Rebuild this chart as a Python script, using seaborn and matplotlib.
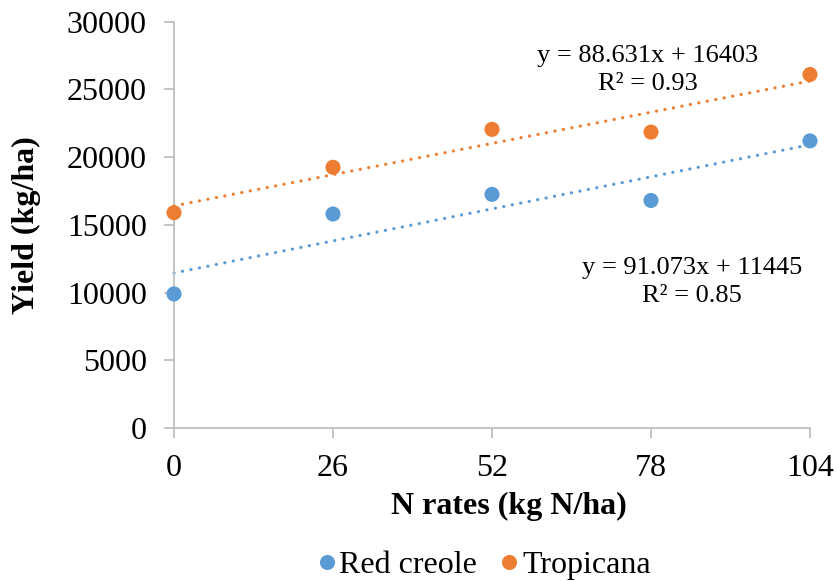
import numpy as np
import pandas as pd
import matplotlib
matplotlib.use("Agg")
import matplotlib.pyplot as plt
import seaborn as sns

# Data
n_rates = [0, 26, 52, 78, 104]
red_creole = [9900, 15800, 17250, 16800, 21200]
tropicana = [15900, 19250, 22050, 21850, 26100]
series_names = ["Red creole", "Tropicana"]
slopes = [91.073, 88.631]
intercepts = [11445, 16403]
r2_values = [0.85, 0.93]
y_ticks = [0, 5000, 10000, 15000, 20000, 25000, 30000]

colors = {"Red creole": "#5B9BD5", "Tropicana": "#ED7D31"}

df = pd.DataFrame({
    "N": n_rates * 2,
    "Yield": red_creole + tropicana,
    "Variety": [series_names[0]] * len(n_rates) + [series_names[1]] * len(n_rates),
})

sns.set_theme(style="white")
plt.rcParams["font.family"] = ["Liberation Serif", "DejaVu Serif"]
plt.rcParams["text.color"] = "black"
plt.rcParams["axes.labelcolor"] = "black"

fig = plt.figure(figsize=(8.38, 5.81), dpi=100)
ax = fig.add_axes([174 / 838, 1 - 428 / 581, (810 - 174) / 838, (428 - 21.7) / 581])

# trend lines
xs = np.array([n_rates[0], n_rates[-1]], dtype=float)
for name, m, b in zip(series_names, slopes, intercepts):
    ax.plot(xs, m * xs + b, color=colors[name], lw=2.3,
            linestyle=(0, (0.05, 2.65)), dash_capstyle="round", zorder=2, clip_on=False)

sns.scatterplot(data=df, x="N", y="Yield", hue="Variety", palette=colors,
                s=118, edgecolor="none", ax=ax, zorder=3, clip_on=False, legend=True)

ax.set_xlim(0, 104)
ax.set_ylim(0, 30000)
ax.set_xticks(n_rates)
ax.set_yticks(y_ticks)
ax.tick_params(axis="both", bottom=True, left=True, labelsize=23, labelcolor="black",
               color="#BFBFBF", length=7, width=1.3, direction="out")
ax.tick_params(axis="x", pad=12)
ax.tick_params(axis="y", pad=12.5)
for s in ["top", "right"]:
    ax.spines[s].set_visible(False)
for s in ["left", "bottom"]:
    ax.spines[s].set_color("#BFBFBF")
    ax.spines[s].set_linewidth(1.3)

ax.set_xlabel("N rates (kg N/ha)", fontsize=23, fontweight="bold", labelpad=6, color="black")
ax.xaxis.label.set_x((509 - 174) / 636)
ax.set_ylabel("Yield (kg/ha)", fontsize=23, fontweight="bold", labelpad=19, color="black")

# equations
ax.text(77.5, 26450, f"y = {slopes[1]}x + {intercepts[1]}\nR² = {r2_values[1]}",
        ha="center", va="center", fontsize=19, linespacing=1.38, color="black")
ax.text(84.7, 10800, f"y = {slopes[0]}x + {intercepts[0]}\nR² = {r2_values[0]}",
        ha="center", va="center", fontsize=19, linespacing=1.38, color="black")

leg = ax.get_legend()
handles = leg.legend_handles
labels = [t.get_text() for t in leg.get_texts()]
leg.remove()
lg = fig.legend(handles, labels, loc="center", bbox_to_anchor=(479 / 838, 1 - 565 / 581),
                ncol=2, frameon=False, fontsize=23, handletextpad=-0.2, handlelength=1.2,
                columnspacing=0.4, markerscale=1.0, borderpad=0)
for t in lg.get_texts():
    t.set_color("black")

fig.savefig("out.png", dpi=100)
